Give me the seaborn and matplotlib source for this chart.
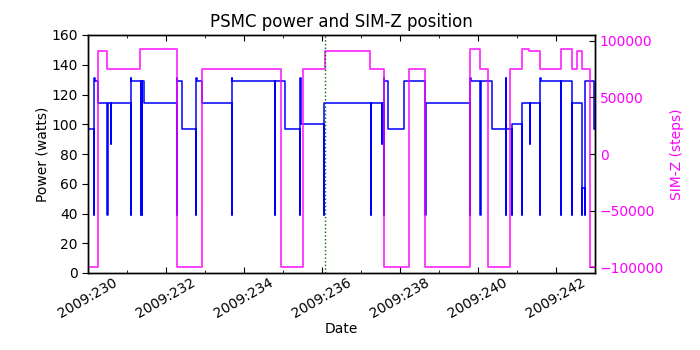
import matplotlib
matplotlib.use("Agg")
import matplotlib.pyplot as plt
import matplotlib.ticker as mticker
import seaborn as sns
import pandas as pd

# ---- data (day of year 2009) ----
power_time = [230.0, 230.154, 230.165, 230.175, 230.265, 230.496, 230.506, 230.58, 230.59,
              231.095, 231.10, 231.105, 231.35, 231.355, 231.39, 231.395, 231.437,
              232.275, 232.28, 232.285, 232.40, 232.775, 232.78, 232.785, 232.92,
              233.686, 233.69, 233.695, 234.80, 234.805, 235.05, 235.44, 235.445, 235.45,
              236.05, 236.06, 237.25, 237.255, 237.53, 237.535, 237.58, 237.585, 237.59,
              237.70, 238.11, 238.65, 238.655, 239.80, 239.805, 239.81, 240.06, 240.065,
              240.36, 240.72, 240.725, 240.73, 240.87, 240.875, 241.125, 241.13, 241.34,
              241.345, 241.596, 241.60, 241.605, 242.126, 242.13, 242.41, 242.415,
              242.665, 242.67, 242.74, 242.745, 242.97, 243.0]
power_watts = [97, 39, 131, 129, 114, 39, 114, 87, 114,
               39, 131, 129, 39, 129, 39, 129, 114,
               39, 131, 129, 97, 39, 131, 129, 114,
               39, 131, 129, 39, 129, 97, 39, 131, 100,
               39, 114, 39, 114, 87, 114, 39, 131, 129,
               97, 129, 39, 114, 39, 131, 129, 39, 129,
               97, 39, 131, 97, 39, 100, 39, 114, 87,
               114, 39, 131, 129, 39, 129, 39, 114,
               39, 57, 39, 129, 97, 97]

simz_time = [230.0, 230.265, 230.496, 231.334, 232.29, 232.92, 234.94, 235.52, 236.08,
             237.23, 237.59, 238.22, 238.65, 239.80, 240.06, 240.25, 240.83, 241.125,
             241.32, 241.60, 242.126, 242.41, 242.55, 242.665, 242.88, 243.0]
simz_steps = [-99612, 91000, 75620, 93000, -99612, 75620, -99612, 75620, 91000,
              75620, -99612, 75620, -99612, 93000, 75620, -99612, 75620, 93000,
              91000, 75620, 93000, 75620, 91000, 75620, -99612, -99612]

marker_time = [236.07]
x_ticks = [230, 232, 234, 236, 238, 240, 242]
power_ticks = [0, 20, 40, 60, 80, 100, 120, 140, 160]
simz_ticks = [-100000, -50000, 0, 50000, 100000]

power_df = pd.DataFrame({"time": power_time, "power": power_watts})
simz_df = pd.DataFrame({"time": simz_time, "simz": simz_steps})

sns.set_style("white")
plt.rcParams["font.family"] = ["DejaVu Sans"]
plt.rcParams.update({"text.color": "black", "axes.labelcolor": "black",
                     "xtick.color": "black", "ytick.color": "black"})

MAG = "#ff00ff"
fig = plt.figure(figsize=(7, 3.5), dpi=100)
ax = fig.add_axes([0.1257, 0.22, 0.7243, 0.68])

sns.lineplot(data=power_df, x="time", y="power", ax=ax, color="#0000ff",
             drawstyle="steps-post", estimator=None, sort=False, linewidth=1.1)
ax2 = ax.twinx()
sns.lineplot(data=simz_df, x="time", y="simz", ax=ax2, color=MAG, alpha=0.8,
             drawstyle="steps-post", estimator=None, sort=False, linewidth=1.3)
for t in marker_time:
    ax2.axvline(t, color="#006400", linestyle=":", linewidth=1.0)

ax.set_xlim(230, 243)
ax.set_ylim(0, 160)
ax2.set_ylim(-105300, 105300)
ax.set_yticks(power_ticks)
ax2.set_yticks(simz_ticks)
ax.xaxis.set_major_locator(mticker.FixedLocator(x_ticks))
ax.xaxis.set_minor_locator(mticker.MultipleLocator(1))
ax.xaxis.set_major_formatter(mticker.FuncFormatter(lambda v, p: "2009:%03d" % round(v)))

for s in list(ax.spines.values()) + list(ax2.spines.values()):
    s.set_color("black")
    s.set_linewidth(1.0)

ax.tick_params(axis="x", which="major", direction="in", top=True, bottom=True,
               length=4, labelsize=10, pad=2, colors="black")
ax.tick_params(axis="x", which="minor", direction="in", top=True, bottom=True, length=2,
               colors="black")
ax.tick_params(axis="y", direction="out", left=True, right=False, length=4, labelsize=10,
               colors="black")
ax2.tick_params(axis="y", direction="in", right=True, length=4, labelsize=10,
                labelcolor=MAG, color="black")
for lab in ax.get_xticklabels():
    lab.set_rotation(30)
    lab.set_ha("center")

ax.set_xlabel("Date", fontsize=10, labelpad=1, color="black")
ax.set_ylabel("Power (watts)", fontsize=10, labelpad=1, color="black")
ax2.set_ylabel("SIM-Z (steps)", fontsize=10, color=MAG)
ax.set_title("PSMC power and SIM-Z position", fontsize=12, color="black")

fig.savefig("out.png", dpi=100)
